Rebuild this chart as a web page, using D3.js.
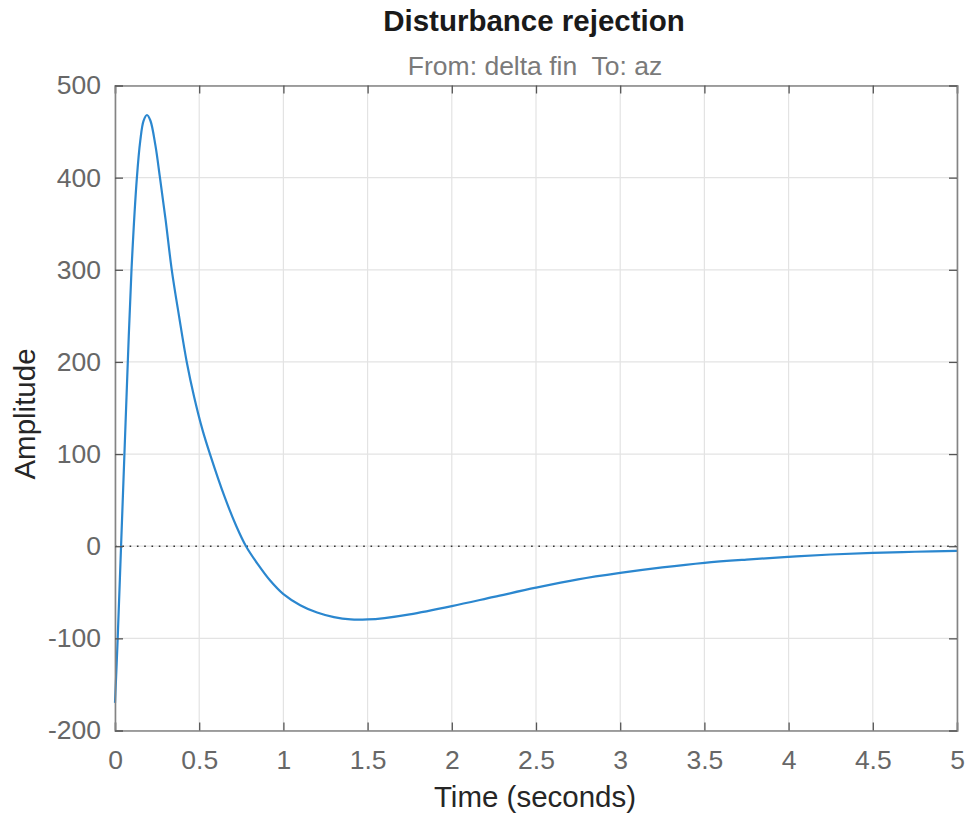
<!DOCTYPE html>
<html><head><meta charset="utf-8">
<script src="https://cdn.jsdelivr.net/npm/d3@7"></script>
<style>
html,body{margin:0;padding:0;background:#fff;}
svg{display:block;font-family:"Liberation Sans",Arial,sans-serif;}
</style></head>
<body><svg id="chart" width="966" height="813"></svg>
<script>
const titleText = "Disturbance rejection";
const subtitleText = "From: delta fin  To: az";
const xLabelText = "Time (seconds)";
const yLabelText = "Amplitude";
const xTicks = [0, 0.5, 1, 1.5, 2, 2.5, 3, 3.5, 4, 4.5, 5];
const yTicks = [-200, -100, 0, 100, 200, 300, 400, 500];
const timeValues = [0, 0.016, 0.036, 0.056, 0.076, 0.098, 0.13, 0.15, 0.17, 0.19, 0.21, 0.24, 0.267, 0.30, 0.337, 0.38, 0.426, 0.47, 0.52, 0.564, 0.65, 0.72, 0.778, 0.85, 0.92, 1.0, 1.1, 1.2, 1.3, 1.4, 1.5, 1.6, 1.75, 2.0, 2.25, 2.5, 2.75, 3.0, 3.25, 3.5, 3.75, 4.0, 4.25, 4.5, 4.75, 5.0];
const amplitudeValues = [-170, -100, 0, 100, 200, 300, 400, 440, 462, 468, 462, 435, 400, 355, 300, 250, 200, 162, 126, 100, 54, 22, 0, -20, -37, -52, -64, -72, -77, -79.5, -79.5, -78, -74, -65, -55, -45, -36, -29, -23, -18, -14.5, -11.6, -9, -7.2, -6, -5];

const svg = d3.select("#chart");
const L = 115, R = 957, T = 85.5, B = 730.5;
const x = d3.scaleLinear().domain([0, 5]).range([L, R]);
const y = d3.scaleLinear().domain([-200, 500]).range([B, T]);
const fontFam = "'Liberation Sans', Arial, sans-serif";

// grid
const g = svg.append("g");
g.selectAll(".vg").data(xTicks).enter().append("line")
  .attr("x1", d => x(d)).attr("x2", d => x(d)).attr("y1", T).attr("y2", B)
  .attr("stroke", "#e3e3e3").attr("stroke-width", 1.2);
g.selectAll(".hg").data(yTicks).enter().append("line")
  .attr("x1", L).attr("x2", R).attr("y1", d => y(d)).attr("y2", d => y(d))
  .attr("stroke", "#e3e3e3").attr("stroke-width", 1.2);

// zero line dotted
svg.append("line").attr("x1", L).attr("x2", R).attr("y1", y(0)).attr("y2", y(0))
  .attr("stroke", "#333").attr("stroke-width", 1.6).attr("stroke-dasharray", "1.6,5.7");

// curve
const data = timeValues.map((t, i) => [t, amplitudeValues[i]]);
svg.append("path").datum(data)
  .attr("fill", "none").attr("stroke", "#2b87cf").attr("stroke-width", 2.2)
  .attr("stroke-linejoin", "round")
  .attr("d", d3.line().x(d => x(d[0])).y(d => y(d[1])).curve(d3.curveCatmullRom.alpha(0.5)));

// axes with inside ticks
const tickLen = 8;
const axCol = "#848484";
const fmt = d => String(d);
const axB = svg.append("g").attr("transform", `translate(0,${B})`)
  .call(d3.axisBottom(x).tickValues(xTicks).tickSize(-tickLen).tickPadding(tickLen + 12).tickFormat(fmt));
const axT = svg.append("g").attr("transform", `translate(0,${T})`)
  .call(d3.axisTop(x).tickValues(xTicks).tickSize(-tickLen).tickFormat(""));
const axL = svg.append("g").attr("transform", `translate(${L},0)`)
  .call(d3.axisLeft(y).tickValues(yTicks).tickSize(-tickLen).tickPadding(tickLen + 6).tickFormat(fmt));
const axR = svg.append("g").attr("transform", `translate(${R},0)`)
  .call(d3.axisRight(y).tickValues(yTicks).tickSize(-tickLen).tickFormat(""));
[axB, axT, axL, axR].forEach(a => {
  a.select(".domain").attr("stroke", axCol).attr("stroke-width", 1.6);
  a.selectAll(".tick line").attr("stroke", "#555").attr("stroke-width", 1.3);
  a.selectAll("text").attr("fill", "#676767").style("font-size", "26.5px")
    .style("font-family", fontFam);
});

// titles
svg.append("text").attr("x", (L + R) / 2 - 2).attr("y", 31).attr("text-anchor", "middle")
  .style("font-size", "29.5px").style("font-weight", "bold").attr("fill", "#1a1a1a").text(titleText);
svg.append("text").attr("x", (L + R) / 2 - 1).attr("y", 75).attr("text-anchor", "middle")
  .style("font-size", "26.5px").style("white-space", "pre").attr("xml:space", "preserve")
  .attr("fill", "#7a7a7a").text(subtitleText);
svg.append("text").attr("x", (L + R) / 2 - 1).attr("y", 807).attr("text-anchor", "middle")
  .style("font-size", "29.5px").attr("fill", "#262626").text(xLabelText);
svg.append("text").attr("transform", `translate(35,${(T + B) / 2 + 6}) rotate(-90)`).attr("text-anchor", "middle")
  .style("font-size", "29.5px").attr("fill", "#262626").text(yLabelText);
</script></body></html>
